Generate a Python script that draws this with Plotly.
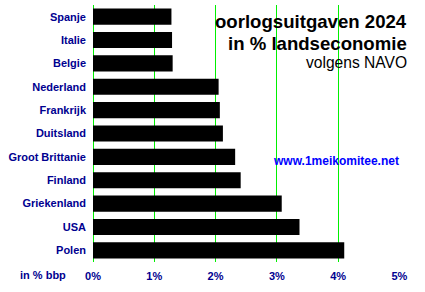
import plotly.graph_objects as go

countries = ["Spanje", "Italie", "Belgie", "Nederland", "Frankrijk", "Duitsland",
             "Groot Brittanie", "Finland", "Griekenland", "USA", "Polen"]
values = [1.28, 1.29, 1.30, 2.05, 2.07, 2.12, 2.32, 2.41, 3.08, 3.37, 4.10]
x_ticks = [0, 1, 2, 3, 4, 5]
x_ticklabels = ["0%", "1%", "2%", "3%", "4%", "5%"]

W, H = 425, 292
ml, mr, mt, mb = 93, 25, 5, 30
pw = W - ml - mr
ph = H - mt - mb

def px_x(x):
    return (x - ml) / pw

def px_y(y):
    return 1 - (y - mt) / ph

navy = "#000090"
green = "#00F000"
font = "Liberation Sans, Arial, sans-serif"

fig = go.Figure(go.Bar(
    x=values, y=countries, orientation="h",
    marker=dict(color="black", line=dict(width=0)),
    width=0.69,
))

fig.update_layout(
    width=W, height=H,
    margin=dict(l=ml, r=mr, t=mt, b=mb),
    paper_bgcolor="white", plot_bgcolor="white",
    showlegend=False,
    xaxis=dict(
        range=[0, 5.01], tickvals=x_ticks, ticktext=x_ticklabels,
        showgrid=True, gridcolor=green, gridwidth=1,
        zeroline=True, zerolinecolor=green, zerolinewidth=1,
        showline=False, ticks="", ticklabelstandoff=6,
        tickfont=dict(family=font, size=11, color=navy, weight="bold"),
        fixedrange=True,
    ),
    yaxis=dict(
        categoryorder="array", categoryarray=countries[::-1],
        range=[-0.5, len(countries) - 0.5],
        showgrid=False, zeroline=False, showline=False, ticks="",
        ticklabelstandoff=6,
        tickfont=dict(family=font, size=11, color=navy, weight="bold"),
    ),
    font=dict(family=font),
)

# white box behind title hiding gridlines
fig.add_shape(type="rect", xref="paper", yref="paper",
              x0=px_x(213), x1=px_x(425), y0=px_y(73), y1=px_y(8),
              fillcolor="white", line=dict(width=0), layer="between")

fig.add_annotation(text="<b>oorlogsuitgaven 2024</b>", xref="paper", yref="paper",
                   x=px_x(409), y=px_y(21.5), xanchor="right", yanchor="middle",
                   showarrow=False, font=dict(family=font, size=18.6, color="black"))
fig.add_annotation(text="<b>in % landseconomie</b>", xref="paper", yref="paper",
                   x=px_x(409), y=px_y(43), xanchor="right", yanchor="middle",
                   showarrow=False, font=dict(family=font, size=18.6, color="black"))
fig.add_annotation(text="volgens NAVO", xref="paper", yref="paper",
                   x=px_x(409), y=px_y(62), xanchor="right", yanchor="middle",
                   showarrow=False, font=dict(family=font, size=15.6, color="black"))
fig.add_annotation(text="<b>www.1meikomitee.net</b>", xref="paper", yref="paper",
                   x=px_x(336), y=px_y(161), xanchor="center", yanchor="middle",
                   showarrow=False, font=dict(family=font, size=12, color="#0000FF"))
fig.add_annotation(text="<b>in % bbp</b>", xref="paper", yref="paper",
                   x=px_x(43), y=px_y(275), xanchor="center", yanchor="middle",
                   showarrow=False, font=dict(family=font, size=11, color=navy))

fig.write_html("out.html")
